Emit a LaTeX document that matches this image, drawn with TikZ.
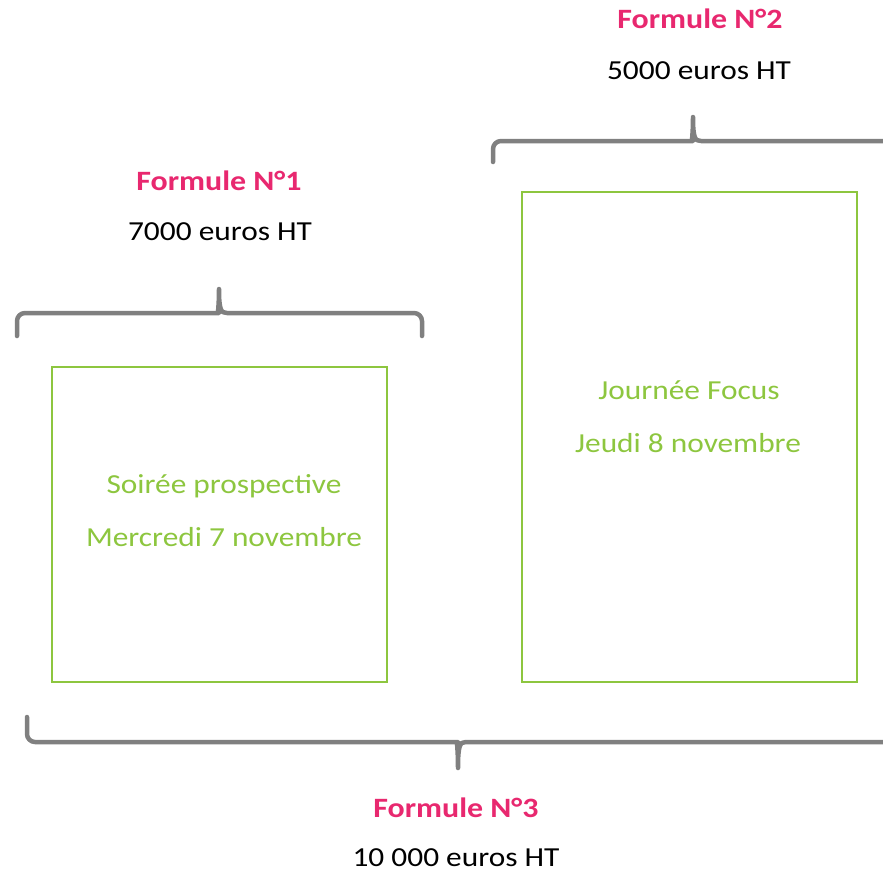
\documentclass[tikz,border=0pt]{standalone}
\usepackage{fontspec}
\setmainfont{Carlito}[FakeStretch=1.14]
\definecolor{fpink}{HTML}{E8286F}
\definecolor{fgreen}{HTML}{8DC63F}
\definecolor{fgray}{HTML}{808080}
\begin{document}
\begin{tikzpicture}[x=1pt,y=-1pt,
  title/.style={font=\fontsize{28}{32}\selectfont\bfseries, text=fpink, inner sep=0pt, anchor=base},
  price/.style={font=\fontsize{27.5}{32}\selectfont, text=black, inner sep=0pt, anchor=base},
  inbox/.style={font=\fontsize{27.5}{32}\selectfont, text=fgreen, inner sep=0pt, anchor=base},
  daybox/.style={draw=fgreen, line width=1.6pt, inner sep=0pt},
  brace/.style={draw=fgray, line width=4.5pt, line cap=round, line join=round}]
\useasboundingbox (0,0) rectangle (883,875);
% boxes
\node[daybox, minimum width=335pt, minimum height=315pt] (box1) at (219.5,524.5) {};
\node[daybox, minimum width=335pt, minimum height=490pt] (box2) at (689.5,437) {};
\node[inbox] (t1a) at (224,493) {Soirée prospective};
\node[inbox] (t1b) at (224,546) {Mercredi 7 novembre};
\node[inbox] (t2a) at (689,399) {Journée Focus};
\node[inbox] (t2b) at (688,452) {Jeudi 8 novembre};
% titles
\node[title] (f1) at (219,190) {Formule N°1};
\node[price] (p1) at (220,240) {7000 euros HT};
\node[title] (f2) at (700,29) {Formule N°2};
\node[price] (p2) at (699,79) {5000 euros HT};
\node[title] (f3) at (456,817) {Formule N°3};
\node[price] (p3) at (456,866) {10 000 euros HT};
% braces
\path[brace, rounded corners=8pt] (17,336) -- (17,313) -- (211,313)
  [sharp corners] .. controls (217,313) and (219,310) .. (219,289)
  .. controls (219,310) and (221,313) .. (227,313)
  [rounded corners=8pt] -- (422,313) -- (422,336);
\path[brace, rounded corners=8pt] (493,162) -- (493,141) -- (685,141)
  [sharp corners] .. controls (691,141) and (693,138) .. (693,117)
  .. controls (693,138) and (695,141) .. (701,141)
  -- (890,141);
\path[brace, rounded corners=8pt] (27,717) -- (27,742) -- (450,742)
  [sharp corners] .. controls (456,742) and (458,745) .. (458,768)
  .. controls (458,745) and (460,742) .. (466,742)
  -- (890,742);
\end{tikzpicture}
\end{document}
